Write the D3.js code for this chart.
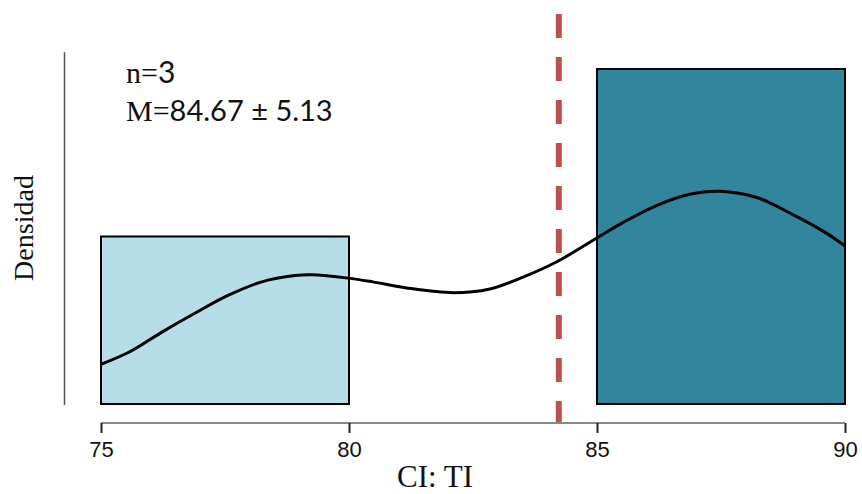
<!DOCTYPE html>
<html><head><meta charset="utf-8">
<script src="https://cdn.jsdelivr.net/npm/d3@7"></script>
<style>body{margin:0;background:#fff}svg{display:block}</style>
</head><body>
<svg id="c" width="862" height="494"></svg>
<script>
// ---- data ----
const binEdges = [75, 80, 85, 90];
const binCounts = [1, 0, 2];
const binColors = ["#b7dde8", "#ffffff", "#31859c"];
const nObs = 3;
const meanLine = 84.23;
const xTicks = [75, 80, 85, 90];
const curveX = [75.00, 75.60, 76.22, 76.90, 77.56, 78.24, 78.91, 79.25, 79.98, 80.48, 81.16, 82.10, 82.84, 83.51, 84.19, 84.99, 85.52, 86.20, 86.87, 87.48, 88.22, 88.89, 89.56, 90.00];
const curveY = [0.0158, 0.0210, 0.0285, 0.0362, 0.0432, 0.0486, 0.0511, 0.0514, 0.0501, 0.0486, 0.0462, 0.0443, 0.0458, 0.0505, 0.0566, 0.0660, 0.0722, 0.0790, 0.0835, 0.0847, 0.0822, 0.0760, 0.0688, 0.0629];
const statN = "n=3";
const statM = "84.67 ± 5.13";
const xTitle = "CI: TI";
const yTitle = "Densidad";

// ---- chart ----
const svg = d3.select("#c");
const x = d3.scaleLinear().domain([75, 90]).range([101, 845]);
const y = d3.scaleLinear().domain([0, 0.14]).range([404, 52.25]);

const bins = binCounts.map((c, i) => ({x0: binEdges[i], x1: binEdges[i+1], d: c / (nObs * (binEdges[i+1]-binEdges[i])), col: binColors[i]}));

svg.append("g").selectAll("rect").data(bins).join("rect")
  .attr("x", d => x(d.x0)).attr("width", d => x(d.x1) - x(d.x0))
  .attr("y", d => y(d.d)).attr("height", d => y(0) - y(d.d))
  .attr("fill", d => d.col).attr("stroke", "#000").attr("stroke-width", 2);

// density curve
const pts = curveX.map((v, i) => [v, curveY[i]]);
svg.append("path").datum(pts)
  .attr("d", d3.line().x(d => x(d[0])).y(d => y(d[1])).curve(d3.curveCatmullRom))
  .attr("fill", "none").attr("stroke", "#000").attr("stroke-width", 3);

// mean line
svg.append("line")
  .attr("x1", x(meanLine)).attr("x2", x(meanLine))
  .attr("y1", 14).attr("y2", 423)
  .attr("stroke", "#c0504d").attr("stroke-width", 6)
  .attr("stroke-dasharray", "24 19");

// x axis
const xa = svg.append("g").attr("transform", "translate(0,423)")
  .call(d3.axisBottom(x).tickValues(xTicks).tickSize(10).tickPadding(8).tickFormat(d3.format("d")));
xa.select(".domain").attr("stroke", "#888").attr("stroke-width", 2).attr("d", `M${x(75)},0H${x(90)}`);
xa.selectAll(".tick line").attr("stroke", "#222").attr("stroke-width", 2);
xa.selectAll(".tick text").attr("font-family", "'Liberation Sans', Arial, sans-serif").attr("font-size", 22).attr("fill", "#111");

// y axis line
svg.append("line").attr("x1", 64.5).attr("x2", 64.5).attr("y1", y(0.14)).attr("y2", 405)
  .attr("stroke", "#555").attr("stroke-width", 1.5);

// titles
svg.append("text").attr("x", 435).attr("y", 487).attr("text-anchor", "middle")
  .attr("font-family", "'Liberation Serif', 'Times New Roman', serif").attr("font-size", 31).attr("fill", "#111").text(xTitle);
svg.append("text").attr("transform", "translate(33,228) rotate(-90)").attr("text-anchor", "middle")
  .attr("font-family", "'Liberation Serif', 'Times New Roman', serif").attr("font-size", 28).attr("fill", "#111").text(yTitle);

// stats text
const t1 = svg.append("text").attr("x", 126).attr("y", 83).attr("font-size", 30).attr("fill", "#111");
t1.append("tspan").attr("font-family", "'Liberation Serif', serif").text(statN.slice(0, 2));
t1.append("tspan").attr("font-family", "Lato, sans-serif").text(statN.slice(2));
const t2 = svg.append("text").attr("x", 126).attr("y", 121).attr("font-size", 30).attr("fill", "#111");
t2.append("tspan").attr("font-family", "'Liberation Serif', serif").text("M=");
t2.append("tspan").attr("font-family", "Lato, sans-serif").attr("font-size", 29).text(statM);
</script>
</body></html>
